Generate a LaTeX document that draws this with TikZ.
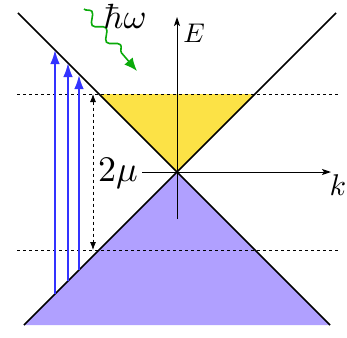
\documentclass[tikz,border=0pt]{standalone}
\usepackage{graphicx}
\usetikzlibrary{arrows.meta,decorations.pathmorphing}
\definecolor{bandyellow}{RGB}{252,226,70}
\definecolor{bandpurple}{RGB}{176,160,255}
\definecolor{photongreen}{RGB}{10,170,10}
\definecolor{transblue}{RGB}{51,51,255}
\tikzset{
  cone/.style={line width=1.7pt, black},
  axis/.style={line width=1pt, black, -{Stealth[length=9pt,width=6pt,inset=2pt]}},
  level/.style={line width=0.8pt, black, dash pattern=on 3pt off 3pt},
  trans/.style={line width=1.7pt, transblue, -{Latex[length=14pt,width=9.5pt]}},
  gap/.style={line width=0.8pt, black, dash pattern=on 3pt off 3pt, {Latex[length=8pt,width=6pt]}-{Latex[length=8pt,width=6pt]}},
  photon/.style={line width=1.6pt, photongreen, decorate, decoration={snake, amplitude=4.5pt, segment length=22pt, post length=14pt}, -{Latex[length=13pt,width=11pt]}},
  lbl/.style={inner sep=0pt}
}
\begin{document}
\begin{tikzpicture}[x=1pt,y=-1pt]
\useasboundingbox (0,0) rectangle (347,337);
% key points
\coordinate (O) at (177,172);
\coordinate (UL) at (18,13);
\coordinate (UR) at (336,13);
\coordinate (LL) at (24,325);
\coordinate (LR) at (330,325);
\coordinate (YL) at (99,94);
\coordinate (YR) at (255,94);
% fills
\fill[bandpurple] (O) -- (LL) -- (LR) -- cycle;
\fill[bandyellow] (O) -- (YL) -- (YR) -- cycle;
% dashed levels
\coordinate (d1a) at (17,94); \coordinate (d1b) at (339,94);
\coordinate (d2a) at (17,250); \coordinate (d2b) at (339,250);
\draw[level] (d1a) -- (d1b);
\draw[level] (d2a) -- (d2b);
% cone
\draw[cone] (UL) -- (LR);
\draw[cone] (UR) -- (LL);
% axes
\node[lbl, anchor=east] (mu) at (138,173) {\scalebox{3.6}{$2\mu$}};
\coordinate (Ebot) at (177,219);
\coordinate (Etop) at (177,17);
\coordinate (kend) at (331,172);
\draw[axis] (Ebot) -- (Etop);
\draw[axis] ([xshift=4pt]mu.east |- O) -- (kend);
\node[lbl] (E) at (194,33) {\scalebox{2.7}{$E$}};
\node[lbl] (k) at (338,185) {\scalebox{3}{$k$}};
% gap arrow
\coordinate (g1) at (93,94);
\coordinate (g2) at (93,250);
\draw[gap] (g1) -- (g2);
% transitions
\coordinate (b1s) at (55,294); \coordinate (b1e) at (55,50);
\coordinate (b2s) at (68,281); \coordinate (b2e) at (68,63);
\coordinate (b3s) at (79,270); \coordinate (b3e) at (79,75);
\draw[trans] (b1s) -- (b1e);
\draw[trans] (b2s) -- (b2e);
\draw[trans] (b3s) -- (b3e);
% photon
\coordinate (w1) at (84,9);
\coordinate (w2) at (137,71);
\draw[photon] (w1) -- (w2);
\node[lbl] (hw) at (125,16) {\scalebox{3.5}{$\hbar\omega$}};
\end{tikzpicture}
\end{document}
